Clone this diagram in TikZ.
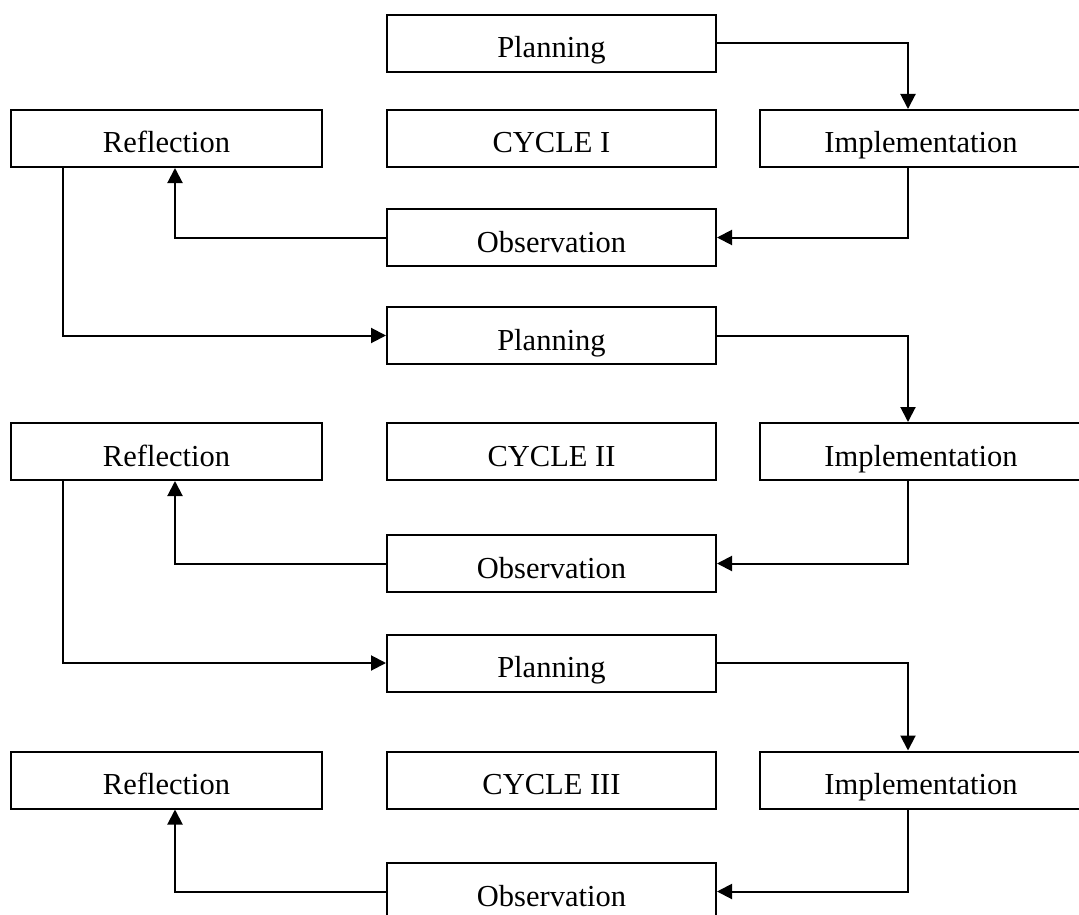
\documentclass[tikz,border=0pt]{standalone}
\usepackage{fontspec}
\setmainfont{Liberation Serif}
\usetikzlibrary{arrows.meta}
\begin{document}
\begin{tikzpicture}[x=1pt,y=-1pt,
  box/.style={draw, line width=2pt, inner sep=0pt, minimum height=57pt,
    text height=29pt, text depth=0pt, font=\fontsize{30.5}{36}\selectfont},
  wbox/.style={box, minimum width=329pt},
  rbox/.style={box, minimum width=311pt},
  ibox/.style={box, minimum width=322pt},
  link/.style={line width=2pt, -{Triangle[length=15pt,width=15pt]}},
  plainlink/.style={line width=2pt}]
\useasboundingbox (0,0) rectangle (1079,915);
\clip (0,0) rectangle (1079,915);
\coordinate (xr) at (908,0);
\coordinate (xl) at (175,0);
\coordinate (xd) at (63,0);
% Cycle I
\node[wbox] (P1) at (551.5,43.5) {Planning};
\node[rbox] (R1) at (166.5,138.5) {Reflection};
\node[wbox] (C1) at (551.5,138.5) {CYCLE I};
\node[ibox] (I1) at (921,138.5) {Implementation};
\node[wbox] (O1) at (551.5,237.5) {Observation};
% Cycle II
\node[wbox] (P2) at (551.5,335.5) {Planning};
\node[rbox] (R2) at (166.5,451.5) {Reflection};
\node[wbox] (C2) at (551.5,451.5) {CYCLE II};
\node[ibox] (I2) at (921,451.5) {Implementation};
\node[wbox] (O2) at (551.5,563.5) {Observation};
% Cycle III
\node[wbox] (P3) at (551.5,663) {Planning};
\node[rbox] (R3) at (166.5,780) {Reflection};
\node[wbox] (C3) at (551.5,780) {CYCLE III};
\node[ibox] (I3) at (921,780) {Implementation};
\node[wbox] (O3) at (551.5,891.5) {Observation};
% connectors
\draw[link] (P1.east) -| (xr |- I1.north);
\draw[link] (xr |- I1.south) |- (O1.east);
\draw[link] (O1.west) -| (xl |- R1.south);
\draw[link] (xd |- R1.south) |- (P2.west);
\draw[link] (P2.east) -| (xr |- I2.north);
\draw[link] (xr |- I2.south) |- (O2.east);
\draw[link] (O2.west) -| (xl |- R2.south);
\draw[link] (xd |- R2.south) |- (P3.west);
\draw[link] (P3.east) -| (xr |- I3.north);
\draw[link] (xr |- I3.south) |- (O3.east);
\draw[link] (O3.west) -| (xl |- R3.south);
\end{tikzpicture}
\end{document}
